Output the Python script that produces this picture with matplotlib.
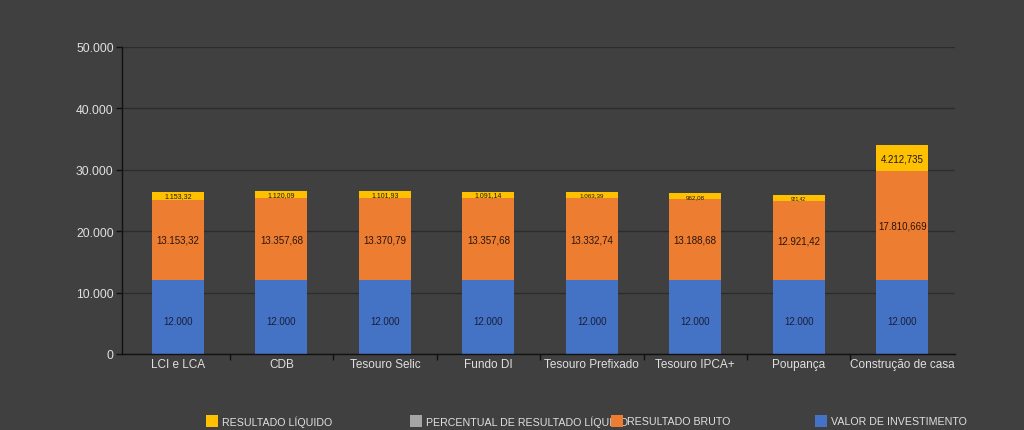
import matplotlib
matplotlib.use("Agg")
import matplotlib.pyplot as plt
from matplotlib.patches import Rectangle

categories = ["LCI e LCA", "CDB", "Tesouro Selic", "Fundo DI", "Tesouro Prefixado",
              "Tesouro IPCA+", "Poupança", "Construção de casa"]
investimento = [12000, 12000, 12000, 12000, 12000, 12000, 12000, 12000]
bruto = [13153.32, 13357.68, 13370.79, 13357.68, 13332.74, 13188.68, 12921.42, 17810.669]
liquido = [1153.32, 1120.09, 1101.93, 1091.14, 1063.39, 962.08, 921.42, 4212.735]
investimento_labels = ["12.000"] * 8
bruto_labels = ["13.153,32", "13.357,68", "13.370,79", "13.357,68", "13.332,74",
                "13.188,68", "12.921,42", "17.810,669"]
liquido_labels = ["1.153,32", "1.120,09", "1.101,93", "1.091,14", "1.063,39",
                  "962,08", "921,42", "4.212,735"]
liquido_sizes = [5, 5, 5, 5, 4.5, 4.5, 3.5, 7]
yticks = [0, 10000, 20000, 30000, 40000, 50000]
ytick_labels = ["0", "10.000", "20.000", "30.000", "40.000", "50.000"]
legend_items = ["RESULTADO LÍQUIDO", "PERCENTUAL DE RESULTADO LÍQUIDO",
                "RESULTADO BRUTO", "VALOR DE INVESTIMENTO"]

BG = "#404040"
BLUE = "#4472C4"
ORANGE = "#ED7D31"
YELLOW = "#FFC000"
GREY = "#A5A5A5"
TXT = "#E0E0E0"
FONT = ["Liberation Sans", "DejaVu Sans"]
plt.rcParams["font.family"] = FONT

W, H = 1024, 431
fig = plt.figure(figsize=(W / 100, H / 100), dpi=100, facecolor=BG)
ax = fig.add_axes([122 / W, 1 - 355 / H, (955 - 122) / W, (355 - 48) / H], facecolor=BG)

x = list(range(len(categories)))
bw = 0.5
ax.bar(x, investimento, width=bw, color=BLUE, zorder=3)
ax.bar(x, bruto, width=bw, bottom=investimento, color=ORANGE, zorder=3)
bot2 = [a + b for a, b in zip(investimento, bruto)]
ax.bar(x, liquido, width=bw, bottom=bot2, color=YELLOW, zorder=3)

for i in x:
    ax.text(i, investimento[i] / 2 - 600, investimento_labels[i], ha="center", va="center",
            fontsize=7, color="#1a1f3a", zorder=4)
    ax.text(i, investimento[i] + bruto[i] / 2, bruto_labels[i], ha="center", va="center",
            fontsize=7, color="#2a1408", zorder=4)
    ax.text(i, bot2[i] + liquido[i] / 2, liquido_labels[i], ha="center", va="center",
            fontsize=liquido_sizes[i], color="#1a1a1a", zorder=4)

ax.set_xlim(-0.54, len(categories) - 0.49)
ax.set_ylim(0, 50000)
ax.set_yticks(yticks)
ax.set_yticklabels(ytick_labels, fontsize=8.75, color=TXT)
ax.set_xticks(x)
ax.set_xticklabels(categories, fontsize=8.5, color=TXT)
ax.tick_params(axis="x", length=0, pad=3)
ax.set_xticks([i + 0.5 for i in x[:-1]], minor=True)
ax.tick_params(axis="x", which="minor", length=4, color="#111111", width=1)
ax.tick_params(axis="y", length=4, color="#111111", width=1, pad=2)
ax.grid(axis="y", color="#2c2c2c", linewidth=1, zorder=0)
for s in ["top", "right"]:
    ax.spines[s].set_visible(False)
for s in ["left", "bottom"]:
    ax.spines[s].set_color("#111111")
    ax.spines[s].set_linewidth(1)
    ax.spines[s].set_zorder(5)

legend_colors = [YELLOW, GREY, ORANGE, BLUE]
legend_x = [206, 410, 611, 815]
for lx, col, lab in zip(legend_x, legend_colors, legend_items):
    fig.text((lx + 16) / W, 1 - 422 / H, lab, fontsize=7.7, color=TXT, ha="left", va="center",
             family=["Liberation Sans Narrow", "Liberation Sans", "DejaVu Sans"], zorder=1)
    fig.patches.append(Rectangle((lx / W, 1 - 428 / H), 12 / W, 12 / H, transform=fig.transFigure,
                                 facecolor=col, edgecolor="none", zorder=2))

fig.savefig("out.png", dpi=100, facecolor=BG)
